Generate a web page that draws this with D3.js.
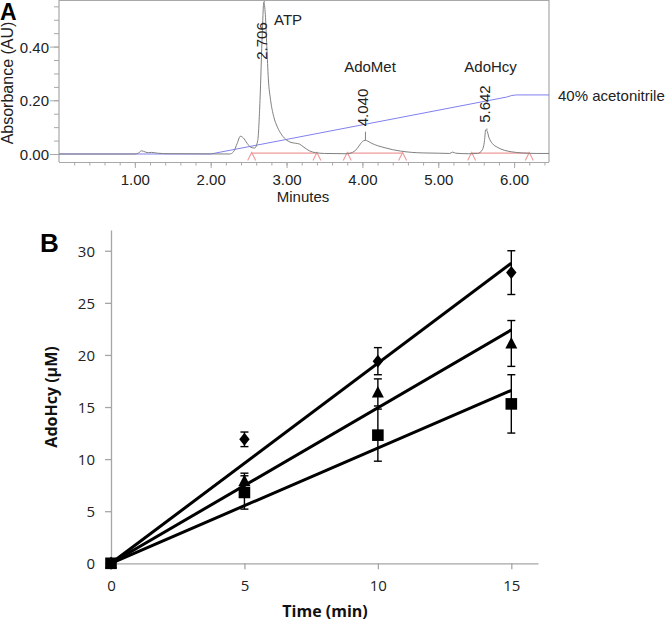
<!DOCTYPE html>
<html><head><meta charset="utf-8">
<script src="https://cdn.jsdelivr.net/npm/d3@7"></script>
<style>body{margin:0;background:#fff}svg{display:block}</style>
</head><body>
<svg id="c" width="666" height="624"></svg>
<script>
// ---------- Panel A data (chromatogram) ----------
const traceTime = [0,1.0,1.05,1.09,1.14,1.18,1.22,1.3,1.45,2.25,2.3,2.35,2.39,2.43,2.48,2.53,2.58,2.62,2.65,2.68,2.70,2.72,2.74,2.76,2.79,2.83,2.88,2.94,3.0,3.06,3.12,3.17,3.23,3.3,3.38,3.5,3.8,3.87,3.93,3.98,4.02,4.04,4.07,4.12,4.2,4.3,4.4,4.5,4.65,4.8,5.0,5.15,5.19,5.23,5.4,5.52,5.58,5.61,5.625,5.64,5.67,5.71,5.78,5.87,5.97,6.1,6.3,6.46];
const traceAbs  = [0,0,0.004,0.012,0.007,0.005,0.006,0.003,0.001,0,0.008,0.04,0.066,0.06,0.04,0.025,0.022,0.05,0.2,0.45,0.565,0.52,0.40,0.28,0.2,0.14,0.1,0.07,0.052,0.043,0.04,0.037,0.025,0.012,0.005,0.002,0.001,0.006,0.02,0.04,0.05,0.051,0.048,0.04,0.031,0.023,0.016,0.011,0.006,0.004,0.003,0.002,0.007,0.003,0.001,0.002,0.015,0.05,0.09,0.088,0.06,0.04,0.025,0.014,0.008,0.004,0.002,0.002];
const gradTime = [0,2.0,5.90,5.97,6.03,6.46];
const gradLevel = [0,0,0.212,0.218,0.22,0.22];
const baseSegStart = [2.54,3.80,5.44];
const baseSegEnd   = [3.40,4.53,6.20];
const peakTimes  = [2.706,4.040,5.642];
const peakLabels = ["2.706","4.040","5.642"];
const peakApex   = [0.565,0.051,0.09];
const peakMarkTop= [0.57,0.083,0.095];
const peakLabelLevel = [0.421,0.173,0.186];
const compoundNames = ["ATP","AdoMet","AdoHcy"];
const compoundTime  = [3.02,4.10,5.69];
const compoundLevel = [0.48,0.305,0.305];
const xTicksA = [1,2,3,4,5,6];
const yTicksA = [0,0.2,0.4];

// ---------- Panel B data ----------
const timesB = [0,5,10,15];
const diamondVals = [0,11.9,19.4,27.9];
const diamondErr  = [0,0.7,1.3,2.1];
const triangleVals = [0,7.9,16.4,21.1];
const triangleErr  = [0,0.75,1.3,2.2];
const squareVals = [0,6.8,12.3,15.3];
const squareErr  = [0,1.6,2.5,2.8];
const fitEnd = [28.8,22.4,16.6]; // diamond, triangle, square fitted value at 15 min
const xTicksB = [0,5,10,15];
const yTicksB = [0,5,10,15,20,25,30];

const svg = d3.select("#c");
const fA = "'Liberation Sans', Arial, sans-serif";
const fB = "'Open Sans', sans-serif";

// ===== Panel A =====
const xA = d3.scaleLinear().domain([0,6.46]).range([59,549]);
const yA = d3.scaleLinear().domain([-0.0298,0.5736]).range([162,0]);
const gA = svg.append("g");
const axCol = "#a8a8a8";

// frame
gA.append("path").attr("d",`M59,162V0.5H549V162`).attr("fill","none").attr("stroke",axCol).attr("stroke-width",1.2);

// minor/major ticks x
const xMinor = d3.range(0.2,6.45,0.2);
gA.append("g").attr("transform","translate(0,162)").call(d3.axisBottom(xA).tickValues(xMinor).tickSize(3.5).tickFormat(""))
  .call(g=>{g.select(".domain").remove();g.selectAll("line").attr("stroke",axCol);});
gA.append("g").attr("transform","translate(0,162)").call(d3.axisBottom(xA).tickValues(xTicksA).tickSize(6).tickFormat(d3.format(".2f")))
  .call(g=>{g.select(".domain").attr("stroke",axCol).attr("d","M59,0.5H549");
    g.selectAll("line").attr("stroke",axCol);
    g.selectAll("text").attr("y",22.5).attr("dy",0).attr("font-family",fA).attr("font-size",15).attr("fill","#222");});
// y ticks
const yMinor = d3.range(0.05,0.56,0.05);
gA.append("g").attr("transform","translate(59,0)").call(d3.axisLeft(yA).tickValues(yMinor).tickSize(5).tickFormat(""))
  .call(g=>{g.select(".domain").remove();g.selectAll("line").attr("stroke",axCol);});
gA.append("g").attr("transform","translate(59,0)").call(d3.axisLeft(yA).tickValues(yTicksA).tickSize(9).tickFormat(d3.format(".2f")))
  .call(g=>{g.select(".domain").remove();g.selectAll("line").attr("stroke",axCol);
    g.selectAll("text").attr("x",-10).attr("dy","0.36em").attr("font-family",fA).attr("font-size",15).attr("fill","#222");});

// axis titles
gA.append("text").attr("x",303).attr("y",202).attr("text-anchor","middle").attr("font-family",fA).attr("font-size",15).attr("fill","#222").text("Minutes");
gA.append("text").attr("transform","translate(13,83) rotate(-90)").attr("text-anchor","middle").attr("font-family",fA).attr("font-size",16).attr("fill","#222").text("Absorbance (AU)");
svg.append("text").attr("x",0).attr("y",20).attr("font-family",fA).attr("font-weight","bold").attr("font-size",23).attr("fill","#000").text("A");

// clip
svg.append("clipPath").attr("id","clipA").append("rect").attr("x",59).attr("y",0).attr("width",490).attr("height",162);
const plotA = gA.append("g").attr("clip-path","url(#clipA)");

// red integration baselines
baseSegStart.forEach((s,i)=>{
  plotA.append("line").attr("x1",xA(s)).attr("x2",xA(baseSegEnd[i])).attr("y1",yA(0.003)).attr("y2",yA(0.003))
    .attr("stroke","#f09a9a").attr("stroke-width",1.2);
});
baseSegStart.concat(baseSegEnd).forEach(t=>{
  const cx = xA(t), top = yA(0.006);
  plotA.append("path").attr("d",`M${cx-4},${top+8}L${cx},${top}L${cx+4},${top+8}`).attr("fill","none").attr("stroke","#f09a9a").attr("stroke-width",1.1);
});

// gradient (blue)
const gradPts = gradTime.map((t,i)=>[t,gradLevel[i]]);
plotA.append("path").datum(gradPts).attr("fill","none").attr("stroke","#8080f0").attr("stroke-width",1)
  .attr("d",d3.line().x(d=>xA(d[0])).y(d=>yA(d[1])));

// trace (gray)
const tracePts = traceTime.map((t,i)=>[t,traceAbs[i]]);
plotA.append("path").datum(tracePts).attr("fill","none").attr("stroke","#808080").attr("stroke-width",1)
  .attr("d",d3.line().x(d=>xA(d[0])).y(d=>yA(d[1])).curve(d3.curveMonotoneX));

// peak markers and labels
peakTimes.forEach((t,i)=>{
  plotA.append("line").attr("x1",xA(t)).attr("x2",xA(t)).attr("y1",yA(peakApex[i])).attr("y2",yA(peakMarkTop[i])).attr("stroke","#808080").attr("stroke-width",1);
  gA.append("text").attr("transform",`translate(${xA(t)+3},${yA(peakLabelLevel[i])}) rotate(-90)`)
    .attr("text-anchor","middle").attr("font-family",fA).attr("font-size",15).attr("fill","#222").text(peakLabels[i]);
});
compoundNames.forEach((n,i)=>{
  gA.append("text").attr("x",xA(compoundTime[i])).attr("y",yA(compoundLevel[i])).attr("text-anchor","middle")
    .attr("font-family",fA).attr("font-size",15).attr("fill","#222").text(n);
});
gA.append("text").attr("x",558).attr("y",yA(0.22)+6).attr("font-family",fA).attr("font-size",15).attr("fill","#222").text("40% acetonitrile");

// ===== Panel B =====
const xB = d3.scaleLinear().domain([0,16]).range([111,538]);
const yB = d3.scaleLinear().domain([0,32]).range([563.3,229.9]);
const gB = svg.append("g");
const axB = "#a6a6a6";
gB.append("g").attr("transform","translate(0,563.3)").call(d3.axisBottom(xB).tickValues(xTicksB).tickSize(6).tickSizeOuter(0))
  .call(g=>{g.select(".domain").attr("stroke",axB).attr("stroke-width",1.3);
    g.selectAll("line").attr("stroke",axB).attr("stroke-width",1.3);
    g.selectAll("text").attr("y",28).attr("dy",0).attr("font-family",fB).attr("font-size",15).attr("fill","#222");});
gB.append("g").attr("transform","translate(111,0)").call(d3.axisLeft(yB).tickValues(yTicksB).tickSize(6).tickSizeOuter(0))
  .call(g=>{g.select(".domain").attr("stroke",axB).attr("stroke-width",1.3);
    g.selectAll("line").attr("stroke",axB).attr("stroke-width",1.3);
    g.selectAll("text").attr("x",-16).attr("dy","0.36em").attr("font-family",fB).attr("font-size",15).attr("fill","#222");});
gB.append("text").attr("x",325).attr("y",617).attr("text-anchor","middle").attr("font-family",fB).attr("font-weight","bold").attr("font-size",16).attr("fill","#111").text("Time (min)");
gB.append("text").attr("transform","translate(57,397) rotate(-90)").attr("text-anchor","middle").attr("font-family",fB).attr("font-weight","bold").attr("font-size",16).attr("fill","#111").text("AdoHcy (µM)");
svg.append("text").attr("x",40).attr("y",252).attr("font-family",fA).attr("font-weight","bold").attr("font-size",26).attr("fill","#000").text("B");

// fitted lines
const seriesVals = [diamondVals,triangleVals,squareVals];
const seriesErr  = [diamondErr,triangleErr,squareErr];
fitEnd.forEach(v=>{
  gB.append("line").attr("x1",xB(0)).attr("y1",yB(0)).attr("x2",xB(15)).attr("y2",yB(v))
    .attr("stroke","#000").attr("stroke-width",3);
});
// error bars
seriesVals.forEach((vals,s)=>{
  vals.forEach((v,i)=>{
    const e = seriesErr[s][i]; if(!e) return;
    const cx = xB(timesB[i]);
    const g = gB.append("g").attr("stroke","#000").attr("stroke-width",1.4);
    g.append("line").attr("x1",cx).attr("x2",cx).attr("y1",yB(v-e)).attr("y2",yB(v+e));
    g.append("line").attr("x1",cx-4).attr("x2",cx+4).attr("y1",yB(v-e)).attr("y2",yB(v-e));
    g.append("line").attr("x1",cx-4).attr("x2",cx+4).attr("y1",yB(v+e)).attr("y2",yB(v+e));
  });
});
// markers (custom shapes)
const shapePath = [
  "M0,-6.5L5.2,0L0,6.5L-5.2,0Z",        // diamond
  "M0,-6.5L6,5L-6,5Z",                  // triangle
  "M-5.8,-5.8H5.8V5.8H-5.8Z"            // square
];
[0,2,1].forEach(s=>{
  seriesVals[s].forEach((v,i)=>{
    gB.append("path").attr("d",shapePath[s]).attr("fill","#000")
      .attr("transform",`translate(${xB(timesB[i])},${yB(v)})`);
  });
});
</script>
</body></html>
